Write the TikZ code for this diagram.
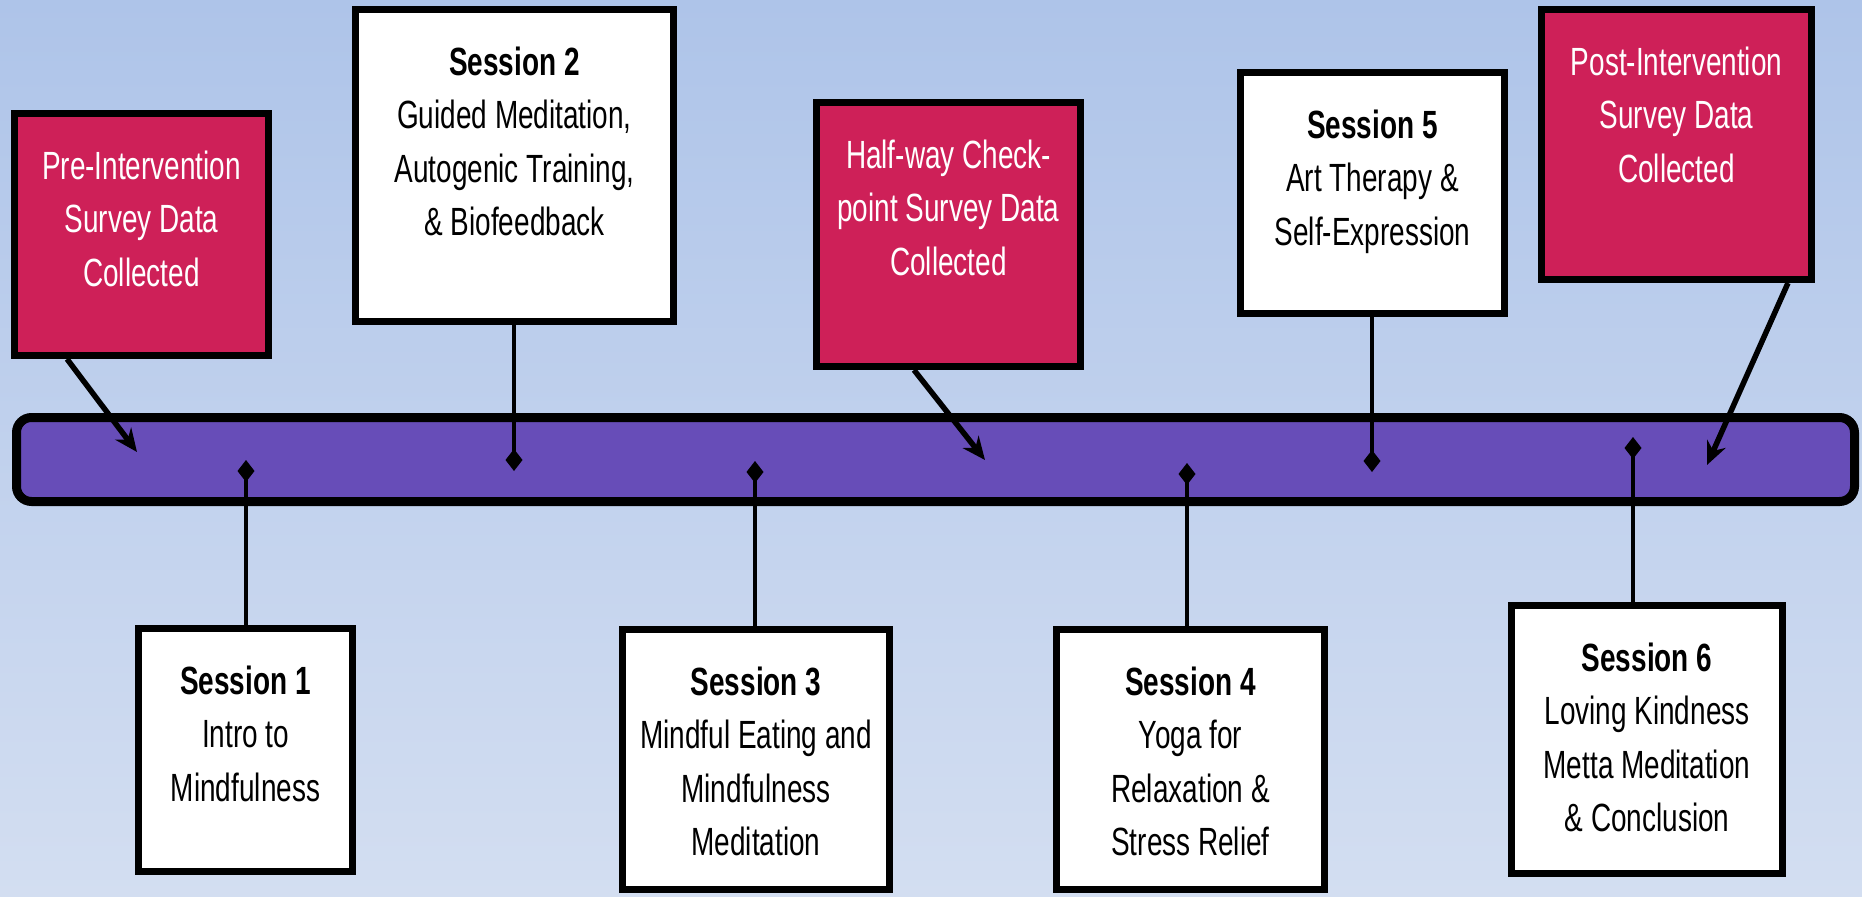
\documentclass[tikz,border=0pt]{standalone}
\usepackage{fontspec}
\setmainfont{Liberation Sans}[FakeStretch=0.71]
\usepackage{tikz}
\usetikzlibrary{arrows.meta,positioning}
\usepackage{xcolor}
\definecolor{bgtop}{RGB}{174,196,233}
\definecolor{bgbottom}{RGB}{211,222,241}
\definecolor{surveyred}{RGB}{206,32,88}
\definecolor{barpurple}{RGB}{103,77,184}
\tikzstyle{survey} = [draw=black, line width=0.7mm, fill=surveyred, inner sep=0pt]
\tikzstyle{session} = [draw=black, line width=0.7mm, fill=white, inner sep=0pt]
\tikzstyle{boxtext} = [align=center, inner sep=0pt, font=\fontsize{11.2}{15.2}\selectfont]
\tikzstyle{surveyarrow} = [line width=0.55mm, -{Stealth[length=2.3mm,width=2mm]}]
\tikzstyle{tick} = [line width=0.45mm, -{Diamond[length=2.2mm,width=1.7mm]}]

\begin{document}
\begin{tikzpicture}[x=0.1mm, y=-0.1mm]
% Background
\useasboundingbox (0,0) rectangle (1862,897);
\shade[top color=bgtop, bottom color=bgbottom] (0,0) rectangle (1862,897);

% Timeline bar
\node[draw=black, line width=0.9mm, fill=barpurple, rounded corners=1.5mm,
  minimum width=183.8mm, minimum height=8.4mm, inner sep=0pt] (bar) at (935.5,459.5) {};

% Survey boxes
\node[survey, minimum width=25.4mm, minimum height=24.2mm] (pre) at (141.5,234.5) {};
\node[survey, minimum width=26.4mm, minimum height=26.4mm] (half) at (948.5,234.5) {};
\node[survey, minimum width=27mm, minimum height=27mm] (post) at (1676.5,144.5) {};

\node[boxtext, text=white, below=4mm of pre.north] (pretext) {Pre-Intervention\\Survey Data\\Collected};
\node[boxtext, text=white, below=4mm of half.north] (halftext) {Half-way Check-\\point Survey Data\\Collected};
\node[boxtext, text=white, below=4mm of post.north] (posttext) {Post-Intervention\\Survey Data\\Collected};

% Session boxes
\node[session, minimum width=21.4mm, minimum height=24.3mm] (s1) at (245.5,750) {};
\node[session, minimum width=31.8mm, minimum height=31.2mm] (s2) at (514.5,165.5) {};
\node[session, minimum width=26.7mm, minimum height=26mm] (s3) at (756,759.5) {};
\node[session, minimum width=26.8mm, minimum height=26mm] (s4) at (1190.5,759.5) {};
\node[session, minimum width=26.4mm, minimum height=24.1mm] (s5) at (1372.5,193) {};
\node[session, minimum width=27.1mm, minimum height=26.8mm] (s6) at (1647,739.5) {};

\node[boxtext, below=4mm of s1.north] (s1text) {\textbf{Session 1}\\Intro to\\Mindfulness};
\node[boxtext, below=4mm of s2.north] (s2text) {\textbf{Session 2}\\Guided Meditation,\\Autogenic Training,\\\& Biofeedback};
\node[boxtext, below=4mm of s3.north] (s3text) {\textbf{Session 3}\\Mindful Eating and\\Mindfulness\\Meditation};
\node[boxtext, below=4mm of s4.north] (s4text) {\textbf{Session 4}\\Yoga for\\Relaxation \&\\Stress Relief};
\node[boxtext, below=4mm of s5.north] (s5text) {\textbf{Session 5}\\Art Therapy \&\\Self-Expression};
\node[boxtext, below=4mm of s6.north] (s6text) {\textbf{Session 6}\\Loving Kindness\\Metta Meditation\\\& Conclusion};

% Points on the bar
\coordinate (pretip) at (137,452);
\coordinate (halftip) at (985,460);
\coordinate (posttip) at (1707,465);
\coordinate (d1) at (246,460);
\coordinate (d2) at (514,471);
\coordinate (d3) at (755,461);
\coordinate (d4) at (1187,463);
\coordinate (d5) at (1372,472);
\coordinate (d6) at (1633,437);

% Survey arrows
\draw[surveyarrow] ([xshift=-7.45mm]pre.south) -- (pretip);
\draw[surveyarrow] ([xshift=-3.45mm]half.south) -- (halftip);
\draw[surveyarrow] ([xshift=11.15mm]post.south) -- (posttip);

% Session ticks
\draw[tick] (s1.north -| d1) -- (d1);
\draw[tick] (s2.south -| d2) -- (d2);
\draw[tick] (s3.north -| d3) -- (d3);
\draw[tick] (s4.north -| d4) -- (d4);
\draw[tick] (s5.south -| d5) -- (d5);
\draw[tick] (s6.north -| d6) -- (d6);
\end{tikzpicture}
\end{document}
